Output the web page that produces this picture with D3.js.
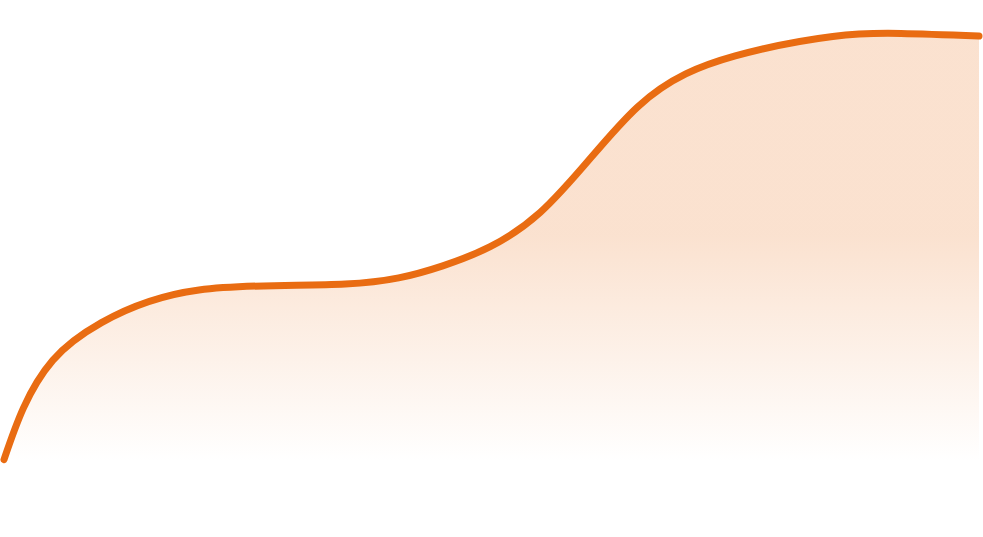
<!DOCTYPE html>
<html>
<head>
<meta charset="utf-8">
<script src="https://cdn.jsdelivr.net/npm/d3@7"></script>
<style>
  html, body { margin: 0; padding: 0; background: #ffffff; }
  svg { display: block; }
</style>
</head>
<body>
<svg id="chart" width="983" height="537"></svg>
<script>
// Data (x position 0-100, value 0-100)
const xPositions = [0, 2, 5, 10, 20, 35, 45, 55, 65, 75, 85, 92, 100];
const values     = [0.1, 12.3, 23.5, 32.4, 40.1, 41.5, 45.8, 58.4, 83.3, 95.3, 99.9, 100.6, 100.0];

const W = 983, H = 537;
const svg = d3.select("#chart");

const x = d3.scaleLinear().domain([0, 100]).range([4, 979]);
const y = d3.scaleLinear().domain([0, 100]).range([460, 36]);

const data = xPositions.map((p, i) => ({ p, v: values[i] }));

const defs = svg.append("defs");
const grad = defs.append("linearGradient")
  .attr("id", "fillGrad")
  .attr("gradientUnits", "userSpaceOnUse")
  .attr("x1", 0).attr("x2", 0)
  .attr("y1", 235).attr("y2", 462);
grad.append("stop").attr("offset", "0%").attr("stop-color", "#E96C12").attr("stop-opacity", 0.2);
grad.append("stop").attr("offset", "100%").attr("stop-color", "#E96C12").attr("stop-opacity", 0);

const curve = d3.curveNatural;

const area = d3.area()
  .x(d => x(d.p))
  .y0(y(0))
  .y1(d => y(d.v))
  .curve(curve);

const line = d3.line()
  .x(d => x(d.p))
  .y(d => y(d.v))
  .curve(curve);

svg.append("path")
  .datum(data)
  .attr("d", area)
  .attr("fill", "url(#fillGrad)");

svg.append("path")
  .datum(data)
  .attr("d", line)
  .attr("fill", "none")
  .attr("stroke", "#E96C12")
  .attr("stroke-width", 7)
  .attr("stroke-linecap", "round")
  .attr("stroke-linejoin", "round");
</script>
</body>
</html>
